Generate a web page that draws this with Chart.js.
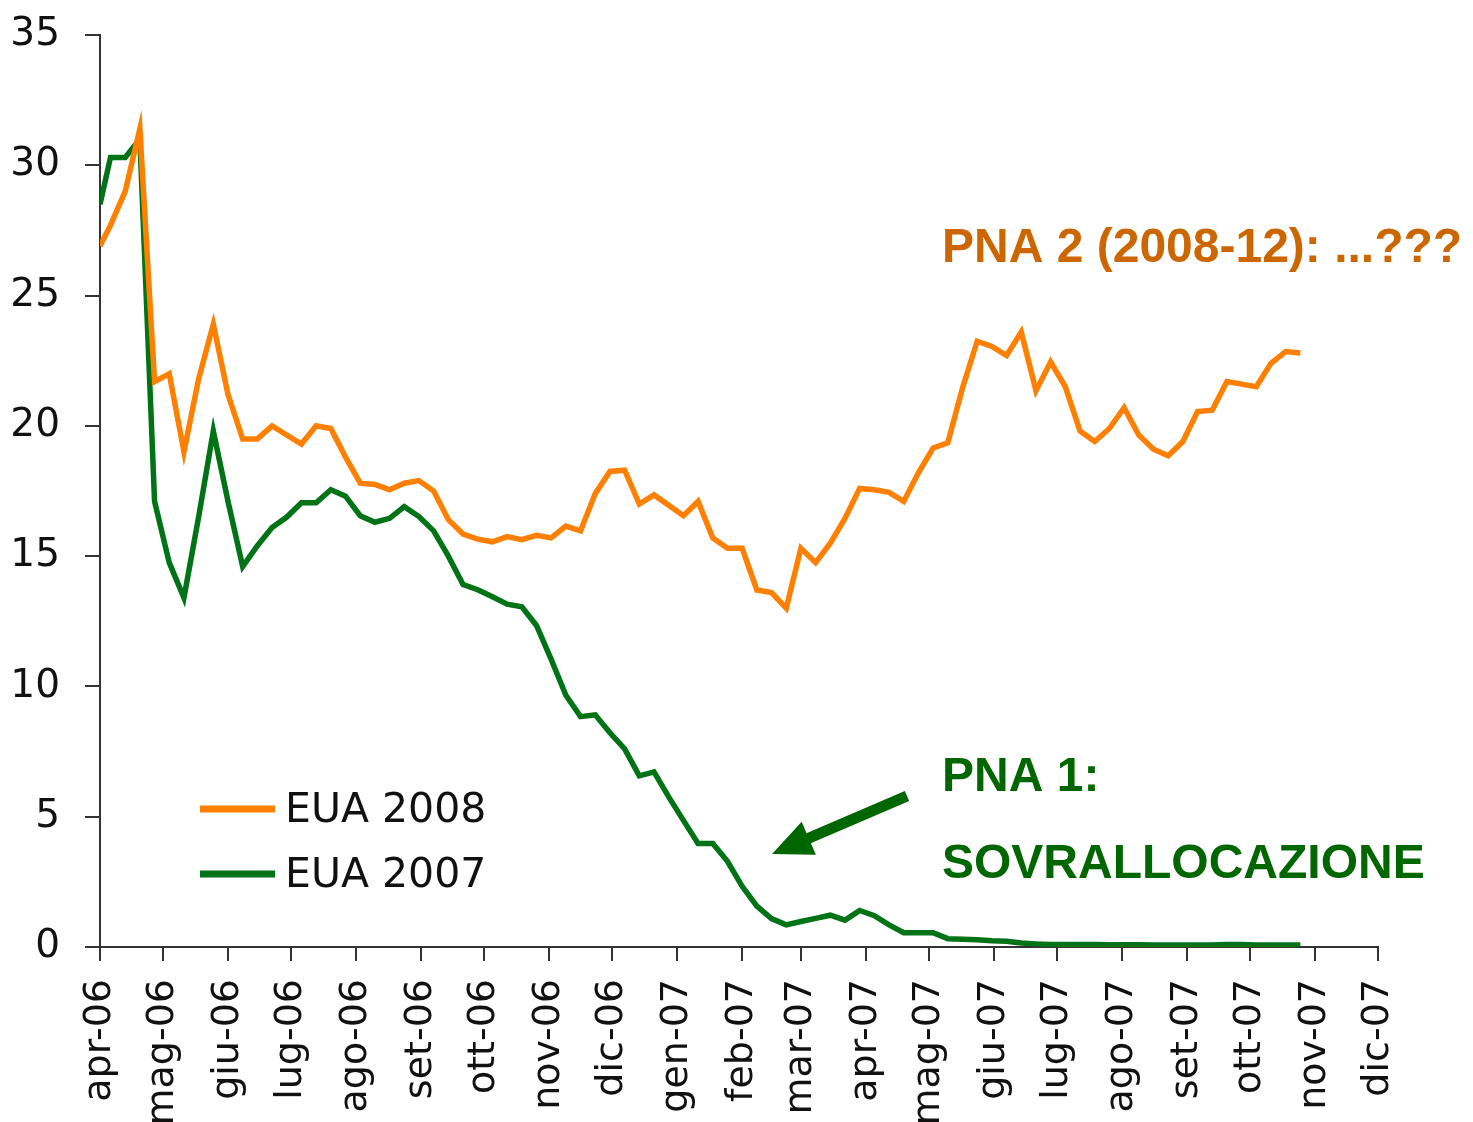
<!DOCTYPE html>
<html>
<head>
<meta charset="utf-8">
<script src="https://cdn.jsdelivr.net/npm/chart.js@4.4.1/dist/chart.umd.min.js"></script>
<style>
  html, body { margin: 0; padding: 0; background: #fff; }
  #wrap { width: 1473px; height: 1122px; }
</style>
</head>
<body>
<div id="wrap"><canvas id="euaChart" width="1473" height="1122"></canvas></div>
<script>
// EUA prices, weekly, apr-06 .. nov-07

// month ticks: days since 1 apr 2006
const monthLabels = ['apr-06', 'mag-06', 'giu-06', 'lug-06', 'ago-06', 'set-06', 'ott-06', 'nov-06', 'dic-06',
  'gen-07', 'feb-07', 'mar-07', 'apr-07', 'mag-07', 'giu-07', 'lug-07', 'ago-07', 'set-07', 'ott-07', 'nov-07', 'dic-07'];
const monthDays = [0, 30, 61, 91, 122, 153, 183, 214, 244, 275, 306, 334, 365, 395, 426, 456, 487, 518, 548, 579, 609];

// observation days (first point on 1 apr, then weekly)
const obsDays = [0].concat(Array.from({ length: 82 }, (_, i) => 5 + 7 * i));

const eua2008 = [
  26.9, 27.7, 29.0, 31.4, 21.7, 22.0, 19.0, 21.8, 23.9, 21.2,
  19.5, 19.5, 20.0, 19.65, 19.3, 20.0, 19.9, 18.8, 17.8, 17.75,
  17.55, 17.8, 17.9, 17.5, 16.4, 15.85, 15.65, 15.55, 15.75, 15.63,
  15.8, 15.7, 16.15, 15.97, 17.4, 18.25, 18.3, 17.0, 17.35, 16.95,
  16.55, 17.1, 15.7, 15.3, 15.3, 13.7, 13.6, 13.0, 15.3, 14.75,
  15.5, 16.45, 17.6, 17.55, 17.45, 17.1, 18.2, 19.15, 19.35, 21.45,
  23.25, 23.05, 22.7, 23.6, 21.35, 22.45, 21.5, 19.8, 19.4, 19.9,
  20.7, 19.65, 19.1, 18.85, 19.4, 20.55, 20.6, 21.7, 21.6, 21.5,
  22.4, 22.85, 22.8
];

const eua2007 = [
  28.5, 30.3, 30.3, 31.0, 17.1, 14.75, 13.4, 16.5, 19.8, 17.1,
  14.6, 15.4, 16.1, 16.5, 17.05, 17.05, 17.55, 17.3, 16.55, 16.3,
  16.45, 16.9, 16.52, 15.97, 15.0, 13.91, 13.71, 13.44, 13.16, 13.06,
  12.34, 11.04, 9.66, 8.84, 8.91, 8.22, 7.6, 6.57, 6.72, 5.76,
  4.86, 3.97, 3.97, 3.29, 2.33, 1.57, 1.09, 0.85, 0.98, 1.1,
  1.22, 1.03, 1.4, 1.2, 0.85, 0.55, 0.55, 0.55, 0.32, 0.3,
  0.28, 0.24, 0.22, 0.15, 0.12, 0.1, 0.1, 0.1, 0.1, 0.09,
  0.09, 0.09, 0.08, 0.08, 0.08, 0.08, 0.08, 0.1, 0.1, 0.08,
  0.08, 0.08, 0.08
];

const yTicks = [0, 5, 10, 15, 20, 25, 30, 35];

const orange = '#FF8000';
const green = '#007316';
const axisColor = '#333333';

const toPoints = vals => vals.map((v, i) => ({ x: obsDays[i], y: v }));

// legend drawn inside the plot, bottom left
const legendBox = {
  id: 'legendBox',
  afterDraw(chart) {
    const ctx = chart.ctx;
    ctx.save();
    ctx.font = '41px "DejaVu Sans"';
    ctx.textBaseline = 'middle';
    chart.data.datasets.forEach((ds, i) => {
      const y = 809 + i * 65;
      ctx.strokeStyle = ds.borderColor;
      ctx.lineWidth = 7;
      ctx.beginPath();
      ctx.moveTo(200, y);
      ctx.lineTo(275, y);
      ctx.stroke();
      ctx.fillStyle = '#111';
      ctx.fillText(ds.label, 285, y + 2);
    });
    ctx.restore();
  }
};

// PNA annotations and arrow
const notes = {
  id: 'notes',
  afterDraw(chart) {
    const ctx = chart.ctx;
    ctx.save();
    ctx.font = 'bold 48px "Liberation Sans"';
    ctx.textBaseline = 'alphabetic';
    ctx.fillStyle = '#CC6600';
    ctx.fillText('PNA 2 (2008-12): ...???', 942, 262);
    ctx.fillStyle = '#006600';
    ctx.fillText('PNA 1:', 942, 791);
    ctx.fillText('SOVRALLOCAZIONE', 942, 878);

    // arrow
    const tail = { x: 907, y: 796 };
    const tip = { x: 772, y: 854 };
    const ang = Math.atan2(tip.y - tail.y, tip.x - tail.x);
    const headLen = 40, headHalf = 18;
    const bx = tip.x - headLen * Math.cos(ang), by = tip.y - headLen * Math.sin(ang);
    ctx.strokeStyle = '#006600';
    ctx.lineWidth = 11;
    ctx.beginPath();
    ctx.moveTo(tail.x, tail.y);
    ctx.lineTo(bx + 4 * Math.cos(ang), by + 4 * Math.sin(ang));
    ctx.stroke();
    ctx.fillStyle = '#006600';
    ctx.beginPath();
    ctx.moveTo(tip.x, tip.y);
    ctx.lineTo(bx + headHalf * Math.sin(ang), by - headHalf * Math.cos(ang));
    ctx.lineTo(bx - headHalf * Math.sin(ang), by + headHalf * Math.cos(ang));
    ctx.closePath();
    ctx.fill();
    ctx.restore();
  }
};

new Chart(document.getElementById('euaChart'), {
  type: 'line',
  data: {
    datasets: [
      {
        label: 'EUA 2008',
        data: toPoints(eua2008),
        borderColor: orange,
        borderWidth: 5.5,
        pointRadius: 0,
        tension: 0,
        fill: false
      },
      {
        label: 'EUA 2007',
        data: toPoints(eua2007),
        borderColor: green,
        borderWidth: 5.5,
        pointRadius: 0,
        tension: 0,
        fill: false
      }
    ]
  },
  options: {
    responsive: false,
    animation: false,
    layout: { padding: { top: 0, right: 95, left: 0, bottom: 0 } },
    plugins: {
      legend: { display: false },
      tooltip: { enabled: false }
    },
    scales: {
      x: {
        type: 'linear',
        min: 0,
        max: 609,
        afterBuildTicks: scale => { scale.ticks = monthDays.map(v => ({ value: v })); },
        afterFit: scale => { scale.height = 175; },
        ticks: {
          autoSkip: false,
          minRotation: 90,
          maxRotation: 90,
          padding: 18,
          color: '#111',
          font: { family: 'DejaVu Sans', size: 38 },
          callback: (v, i) => monthLabels[i]
        },
        grid: { drawOnChartArea: false, drawTicks: true, tickLength: 14, color: axisColor, lineWidth: 2 },
        border: { display: true, color: axisColor, width: 2 }
      },
      y: {
        min: 0,
        max: 35,
        afterBuildTicks: scale => { scale.ticks = yTicks.map(v => ({ value: v })); },
        afterFit: scale => {
          scale.width = 100;
          scale.paddingTop = 35;
          scale.paddingBottom = 0;
        },
        ticks: {
          padding: 25,
          color: '#111',
          font: { family: 'DejaVu Sans', size: 39 }
        },
        grid: { drawOnChartArea: false, drawTicks: true, tickLength: 15, color: axisColor, lineWidth: 2 },
        border: { display: true, color: axisColor, width: 2 }
      }
    }
  },
  plugins: [legendBox, notes]
});
</script>
</body>
</html>
